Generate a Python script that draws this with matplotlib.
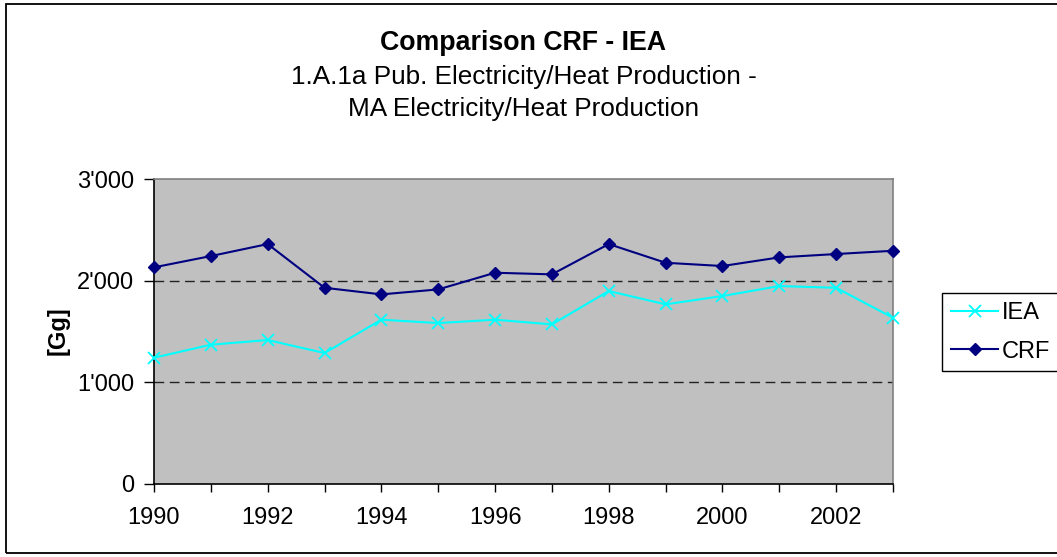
import matplotlib
matplotlib.use("Agg")
import matplotlib.pyplot as plt
from matplotlib.ticker import FixedLocator, FuncFormatter
from matplotlib.patches import Rectangle

plt.rcParams['font.family'] = ['Liberation Sans', 'DejaVu Sans']

years = list(range(1990, 2004))
crf = [2131, 2242, 2360, 1930, 1865, 1914, 2078, 2062, 2360, 2176, 2144, 2229, 2262, 2294]
iea = [1242, 1370, 1416, 1288, 1616, 1583, 1616, 1570, 1898, 1767, 1849, 1947, 1930, 1635]
xlabels = [1990, 1992, 1994, 1996, 1998, 2000, 2002]
yticks = [0, 1000, 2000, 3000]

W, H = 1057, 557
fig = plt.figure(figsize=(W / 100, H / 100), dpi=100)
fig.patch.set_facecolor('white')
fig.patches.append(Rectangle((6 / W, 1 - 553 / H), 1060 / W, 549 / H, transform=fig.transFigure,
                             fill=False, edgecolor='black', linewidth=1.3))

l, r, t, b = 154, 893, 179, 484
ax = fig.add_axes([l / W, 1 - b / H, (r - l) / W, (b - t) / H])
ax.set_facecolor('#C0C0C0')

ax.plot(years, iea, color='#00FFFF', marker='x', markersize=9, markeredgewidth=1.3,
        linewidth=1.5, label='IEA', zorder=3, clip_on=False)
ax.plot(years, crf, color='#000080', marker='D', markersize=6.5, linewidth=1.5,
        label='CRF', zorder=3, clip_on=False)

ax.set_xlim(1990, 2003)
ax.set_ylim(0, 3000)
ax.xaxis.set_major_locator(FixedLocator(years))
ax.set_xticklabels([str(y) if y in xlabels else '' for y in years])
ax.yaxis.set_major_locator(FixedLocator(yticks))
ax.yaxis.set_major_formatter(FuncFormatter(lambda v, p: f"{int(v):,}".replace(',', "'")))
ax.tick_params(axis='both', direction='out', width=1, labelsize=17, colors='black')
ax.tick_params(axis='x', length=5.8, pad=10.5)
ax.tick_params(axis='y', length=7.2, pad=7.2)

for y in [1000, 2000]:
    ax.axhline(y, color='#222222', linestyle=(0, (7, 4)), linewidth=1.0, zorder=1)

ax.spines['left'].set_color('black')
ax.spines['bottom'].set_color('black')
ax.spines['top'].set_color('#808080')
ax.spines['right'].set_color('#808080')
for s in ax.spines.values():
    s.set_linewidth(1.2)

fig.text(58 / W, 1 - 331 / H, '[Gg]', rotation=90, ha='center', va='center',
         fontsize=17, fontweight='bold')

cx = (l + r) / 2 / W
fig.text(cx, 1 - 50 / H, 'Comparison CRF - IEA', ha='center', va='baseline',
         fontsize=19.3, fontweight='bold')
fig.text(cx, 1 - 84 / H, '1.A.1a Pub. Electricity/Heat Production -', ha='center',
         va='baseline', fontsize=18.8)
fig.text(cx, 1 - 116 / H, 'MA Electricity/Heat Production', ha='center',
         va='baseline', fontsize=18.8)

leg = fig.legend(loc='upper left', bbox_to_anchor=(942 / W, 1 - 293 / H), fontsize=17,
                 frameon=True, fancybox=False, edgecolor='black', framealpha=1,
                 handlelength=2.0, handletextpad=0.15, borderpad=0.38, labelspacing=0.7,
                 borderaxespad=0)
leg.get_frame().set_linewidth(1)

fig.savefig('out.png', dpi=100)
